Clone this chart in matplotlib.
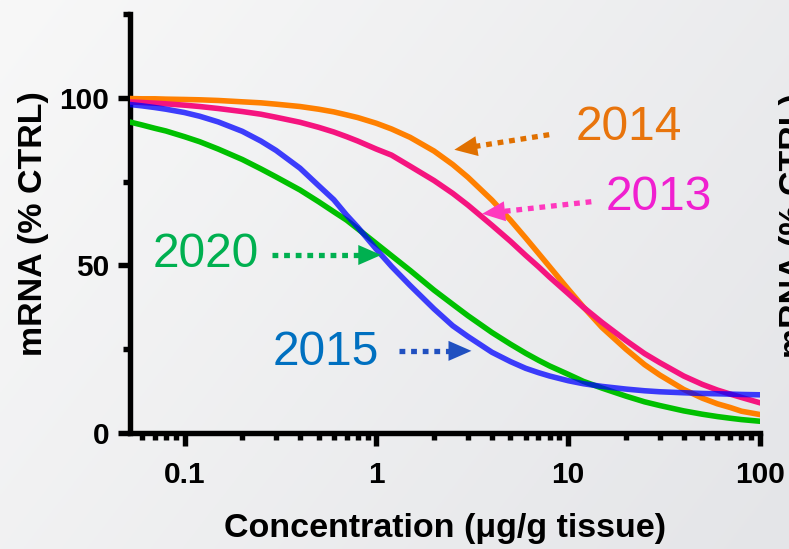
import numpy as np
import matplotlib
matplotlib.use("Agg")
import matplotlib.pyplot as plt
from matplotlib.ticker import FixedLocator, LogLocator, NullFormatter

# Dose-response readings: mRNA remaining (% of control) vs concentration (ug/g tissue)
conc = [0.05, 0.06, 0.07, 0.08, 0.1, 0.12, 0.15, 0.2, 0.25, 0.3, 0.4, 0.5, 0.6, 0.7, 0.8,
        1, 1.2, 1.5, 2, 2.5, 3, 4, 5, 6, 7, 8, 10, 12, 15, 20, 25, 30, 40, 50, 60, 70, 80, 100]
mrna_2014 = [99.8, 99.7, 99.7, 99.6, 99.5, 99.4, 99.2, 98.8, 98.5, 98.1, 97.4, 96.6, 95.8, 94.9, 94.1,
             92.4, 90.7, 88.2, 84.1, 80.1, 76.3, 69.5, 63.5, 58.2, 53.6, 49.6, 42.9, 37.6, 31.5, 25.0,
             20.4, 17.3, 13.0, 10.4, 8.7, 7.6, 6.5, 5.5]
mrna_2013 = [98.8, 98.6, 98.4, 98.2, 97.8, 97.4, 96.8, 95.9, 95.1, 94.2, 92.7, 91.2, 89.8, 88.4, 87.1,
             84.7, 82.9, 79.6, 75.3, 71.5, 68.0, 62.0, 57.2, 53.0, 49.6, 46.5, 41.6, 37.5, 33.0, 27.6,
             23.7, 21.0, 17.0, 14.5, 12.8, 11.6, 10.6, 9.0]
mrna_2015 = [98.1, 97.6, 97.1, 96.6, 95.6, 94.5, 92.8, 90.0, 87.1, 84.3, 79.0, 73.8, 69.6, 65.0, 61.4,
             54.8, 49.7, 44.0, 37.0, 32.0, 28.8, 24.1, 21.3, 19.3, 18.0, 17.0, 15.6, 14.7, 13.9, 13.1,
             12.6, 12.3, 12.0, 11.8, 11.7, 11.6, 11.5, 11.4]
mrna_2020 = [93.0, 91.9, 90.9, 90.1, 88.4, 86.9, 84.7, 81.6, 78.8, 76.4, 72.5, 69.0, 66.0, 63.5, 60.9,
             56.5, 52.9, 48.5, 42.6, 38.4, 35.0, 30.0, 26.5, 23.8, 21.7, 20.0, 17.5, 15.4, 13.4, 11.0,
             9.3, 8.2, 6.6, 5.6, 4.9, 4.4, 4.0, 3.5]

x_ticks = [0.1, 1, 10, 100]
x_ticklabels = ["0.1", "1", "10", "100"]
y_ticks = [0, 50, 100]
y_minor = [25, 75, 125]

plt.rcParams['font.family'] = ['Liberation Sans', 'DejaVu Sans']

fig = plt.figure(figsize=(7.89, 5.49), dpi=100)

# light grey slide backdrop
bg = fig.add_axes([0, 0, 1, 1], zorder=-10)
gx, gy = np.meshgrid(np.linspace(0, 1, 300), np.linspace(0, 1, 200))
shade = 0.65 * gx + 0.35 * gy
c0 = np.array([248, 248, 248]) / 255
c1 = np.array([228, 229, 232]) / 255
bg.imshow(c0 + shade[..., None] * (c1 - c0), aspect='auto', extent=[0, 1, 0, 1])
bg.axis('off')

ax = fig.add_axes([0.1648, 0.2113, 0.7985, 0.7632])
ax.patch.set_alpha(0)

lw = 4.0
ax.plot(conc, mrna_2020, color='#00C000', lw=lw, zorder=3)
ax.plot(conc, mrna_2014, color='#FF8000', lw=lw, zorder=4)
ax.plot(conc, mrna_2013, color='#F5147F', lw=lw, zorder=5)
ax.plot(conc, mrna_2015, color='#0000FF', lw=lw, alpha=0.75, zorder=6)

ax.set_xscale('log')
ax.set_xlim(0.052, 100)
ax.set_ylim(0, 125)

ax.xaxis.set_major_locator(FixedLocator(x_ticks))
ax.set_xticklabels(x_ticklabels)
ax.xaxis.set_minor_locator(LogLocator(base=10, subs=np.arange(2, 10)))
ax.xaxis.set_minor_formatter(NullFormatter())
ax.set_yticks(y_ticks)
ax.set_yticks(y_minor, minor=True)

for s in ['top', 'right']:
    ax.spines[s].set_visible(False)
for s in ['left', 'bottom']:
    ax.spines[s].set_linewidth(3.9)
    ax.spines[s].set_capstyle('projecting')

ax.tick_params(which='major', length=9, width=3.9, direction='out', labelsize=21.5)
ax.tick_params(which='minor', length=5, width=3.9, direction='out')
ax.tick_params(axis='x', which='major', pad=11)
ax.tick_params(axis='y', which='major', pad=6)
for lab in ax.get_xticklabels() + ax.get_yticklabels():
    lab.set_fontweight('bold')

ax.set_xlabel("Concentration (\u03bcg/g tissue)", fontsize=24.5, fontweight='bold')
ax.xaxis.set_label_coords(0.5, -0.19)
ax.set_ylabel("mRNA (% CTRL)", fontsize=24.5, fontweight='bold')
ax.yaxis.set_label_coords(-0.128, 0.5)

# label of the neighbouring panel, cut by the right edge
fig.text(1.027, 0.59, "mRNA (% CTRL)", rotation=90, rotation_mode='anchor',
         ha='center', va='bottom', fontsize=24.5, fontweight='bold')


def pointer(start, tip, color, head_px=16):
    # dotted shaft up to the base of a solid triangular head
    to_px = ax.transData
    p0 = np.array(to_px.transform(start))
    p1 = np.array(to_px.transform(tip))
    d = (p1 - p0) / np.hypot(*(p1 - p0))
    base = to_px.inverted().transform(p1 - d * head_px)
    ax.plot([start[0], base[0]], [start[1], base[1]], color=color, lw=3.8,
            linestyle=(0, (1.1, 1.1)), dash_capstyle='butt', zorder=7)
    ax.annotate('', xy=tip, xytext=start,
                arrowprops=dict(arrowstyle='-|>,head_length=0.55,head_width=0.24',
                                color=color, lw=0, mutation_scale=30,
                                shrinkA=0, shrinkB=0),
                zorder=7)


ax.text(10.9, 87.5, "2014", color='#E8740C', fontsize=34.5, ha='left', va='baseline')
pointer((7.96, 89.0), (2.55, 84.5), '#E07000')

ax.text(15.6, 66.6, "2013", color='#F020D0', fontsize=34.5, ha='left', va='baseline')
pointer((13.2, 69.0), (3.56, 65.4), '#FF38BE')

ax.text(0.068, 49.6, "2020", color='#00B050', fontsize=34.5, ha='left', va='baseline')
pointer((0.287, 53.1), (1.06, 53.1), '#00B050')

ax.text(0.287, 20.3, "2015", color='#0070C0', fontsize=34.5, ha='left', va='baseline')
pointer((1.32, 24.5), (3.13, 24.5), '#2050C0')

fig.savefig("out.png", dpi=100)
